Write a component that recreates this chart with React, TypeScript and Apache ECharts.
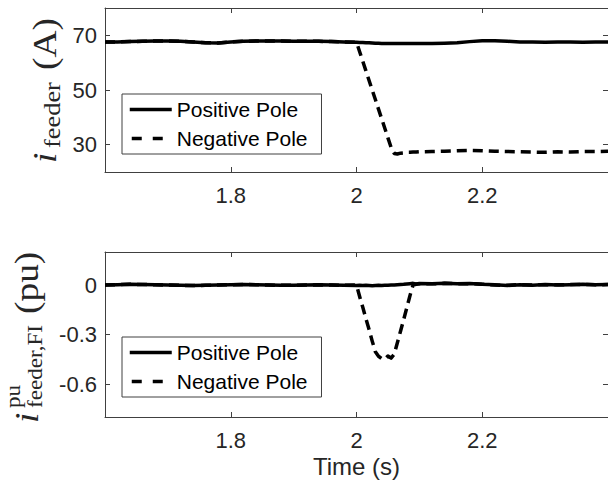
import React, { useEffect, useRef } from "react";
import * as echarts from "echarts";

const time = [
  1.6, 1.62, 1.64, 1.66, 1.68, 1.7, 1.72, 1.74, 1.76, 1.78,
  1.8, 1.82, 1.84, 1.86, 1.88, 1.9, 1.92, 1.94, 1.96, 1.98,
  2.0, 2.005, 2.01, 2.015, 2.02, 2.025, 2.03, 2.035, 2.04, 2.045,
  2.05, 2.055, 2.06, 2.065, 2.07, 2.075, 2.08, 2.085, 2.09, 2.095, 2.1,
  2.12, 2.14, 2.16, 2.18, 2.2, 2.22, 2.24, 2.26, 2.28, 2.3,
  2.32, 2.34, 2.36, 2.38, 2.4,
];

const feederPositive = [
  67.6, 67.6, 67.7, 67.8, 67.9, 67.9, 67.8, 67.6, 67.3, 67.2,
  67.6, 67.8, 67.9, 67.9, 67.9, 67.8, 67.8, 67.8, 67.7, 67.6,
  67.5, 67.4, 67.4, 67.3, 67.3, 67.2, 67.1, 67.1, 67.0, 67.0,
  67.0, 67.0, 67.0, 67.0, 67.0, 67.0, 67.0, 67.0, 67.0, 67.0, 67.0,
  67.0, 67.1, 67.3, 67.7, 68.0, 68.0, 67.8, 67.6, 67.6, 67.5,
  67.6, 67.6, 67.5, 67.6, 67.6,
];

const feederNegative = [
  67.6, 67.6, 67.7, 67.8, 67.9, 67.9, 67.8, 67.6, 67.3, 67.2,
  67.6, 67.8, 67.9, 67.9, 67.9, 67.8, 67.8, 67.8, 67.7, 67.6,
  67.5, 64.0, 60.5, 57.0, 53.5, 50.0, 46.5, 43.0, 39.5, 36.0,
  32.5, 29.0, 26.8, 26.6, 26.9, 27.0, 27.2, 27.2, 27.3, 27.3, 27.4,
  27.5, 27.6, 27.8, 27.9, 27.8, 27.6, 27.5, 27.4, 27.3, 27.2,
  27.4, 27.3, 27.5, 27.5, 27.6,
];

const faultPositive = [
  0.0, 0.002, 0.004, 0.003, 0.001, 0.0, -0.002, -0.003, -0.002, 0.0,
  0.002, 0.003, 0.002, 0.0, -0.002, -0.002, 0.0, 0.001, 0.0, -0.002,
  -0.003, -0.002, -0.003, -0.002, -0.003, -0.004, -0.003, -0.002, -0.003, -0.002,
  -0.001, 0.0, 0.0, 0.002, 0.003, 0.004, 0.006, 0.008, 0.01, 0.006, 0.009,
  0.008, 0.011, 0.007, 0.009, 0.004, 0.001, -0.003, 0.002, -0.001, 0.003,
  0.0, 0.002, 0.004, 0.002, 0.003,
];

const faultNegative = [
  0.0, 0.002, 0.004, 0.003, 0.001, 0.0, -0.002, -0.003, -0.002, 0.0,
  0.002, 0.003, 0.002, 0.0, -0.002, -0.002, 0.0, 0.001, 0.0, -0.002,
  0.0, -0.07, -0.135, -0.205, -0.27, -0.34, -0.405, -0.432, -0.446, -0.45,
  -0.43, -0.443, -0.42, -0.35, -0.28, -0.21, -0.138, -0.065, 0.0, 0.004, 0.007,
  0.007, 0.01, 0.008, 0.008, 0.005, 0.0, -0.002, 0.002, 0.0, 0.002,
  0.001, 0.003, 0.003, 0.001, 0.003,
];

const xTicks = [1.8, 2, 2.2];
const topYTicks = [30, 50, 70];
const bottomYTicks = [-0.6, -0.3, 0];
const legendNames = ["Positive Pole", "Negative Pole"];
const xAxisTitle = "Time (s)";

const TEXT = "#262626";
const AXIS = "#404040";
const SANS = '"Liberation Sans", Arial, Helvetica, sans-serif';
const SERIF = '"Liberation Serif", "Times New Roman", serif';

function pairs(values: number[]) {
  return time.map((t, i) => [t, values[i]]);
}

function xAxisPair(grid: number, withLabels: boolean, name?: string) {
  const base = {
    gridIndex: grid,
    type: "value" as const,
    min: 1.6,
    max: 2.4,
    splitLine: { show: false },
    axisLine: { show: true, onZero: false, lineStyle: { color: AXIS, width: 1 } },
    axisTick: { show: true, inside: true, length: 5, customValues: xTicks, lineStyle: { color: AXIS } },
  };
  return [
    {
      ...base,
      position: "bottom",
      name: name,
      nameLocation: "middle",
      nameGap: 37,
      nameTextStyle: { fontFamily: SANS, fontSize: 24, color: TEXT },
      axisLabel: {
        show: withLabels,
        customValues: xTicks,
        margin: 12,
        fontFamily: SANS,
        fontSize: 22,
        color: TEXT,
      },
    },
    { ...base, position: "top", axisLabel: { show: false } },
  ];
}

function yAxisPair(grid: number, min: number, max: number, ticks: number[]) {
  const base = {
    gridIndex: grid,
    type: "value" as const,
    min,
    max,
    splitLine: { show: false },
    axisLine: { show: true, onZero: false, lineStyle: { color: AXIS, width: 1 } },
    axisTick: { show: true, inside: true, length: 5, customValues: ticks, lineStyle: { color: AXIS } },
  };
  return [
    {
      ...base,
      position: "left",
      axisLabel: {
        customValues: ticks,
        margin: 8,
        fontFamily: SANS,
        fontSize: 22,
        color: TEXT,
      },
    },
    { ...base, position: "right", axisLabel: { show: false } },
  ];
}

function legendAt(top: number) {
  return {
    data: [
      { name: legendNames[0] },
      { name: legendNames[1], lineStyle: { type: [10, 11], dashOffset: -2 } },
    ],
    orient: "vertical",
    left: 122,
    top,
    padding: [5, 14, 5, 6],
    itemGap: 8,
    itemWidth: 42,
    itemHeight: 22,
    backgroundColor: "#ffffff",
    borderColor: AXIS,
    borderWidth: 1,
    borderRadius: 0,
    selectedMode: false,
    itemStyle: { opacity: 0, color: "transparent", borderWidth: 0 },
    lineStyle: { width: 3.5 },
    textStyle: { fontFamily: SANS, fontSize: 21, color: "#000000" },
  };
}

function lineSeries(name: string, values: number[], axis: number, dashed: boolean) {
  return {
    name,
    type: "line",
    xAxisIndex: axis,
    yAxisIndex: axis,
    data: pairs(values),
    symbol: "none",
    showSymbol: false,
    lineStyle: {
      color: "#000000",
      width: 3.5,
      type: dashed ? [10, 6] : "solid",
      cap: "butt",
      join: "round",
    },
    itemStyle: { color: "#000000" },
    z: dashed ? 3 : 2,
  };
}

function vText(text: string, x: number, y: number, size: number, italic = false) {
  return {
    type: "text",
    x,
    y,
    rotation: Math.PI / 2,
    scaleX: 1.1,
    silent: true,
    style: {
      text,
      fontFamily: SERIF,
      fontSize: size,
      fontStyle: italic ? "italic" : "normal",
      fill: TEXT,
      align: "left",
      verticalAlign: "middle",
      textAlign: "left",
      textVerticalAlign: "middle",
    },
  };
}

export default function App() {
  const ref = useRef<HTMLDivElement>(null);

  useEffect(() => {
    if (!ref.current) return;
    const chart = echarts.init(ref.current, null, { renderer: "svg" });
    const option = {
      animation: false,
      backgroundColor: "#ffffff",
      grid: [
        { left: 105, top: 8, width: 506, height: 164 },
        { left: 105, top: 252, width: 506, height: 165 },
      ],
      xAxis: [...xAxisPair(0, true), ...xAxisPair(1, true, xAxisTitle)],
      yAxis: [...yAxisPair(0, 20, 80, topYTicks), ...yAxisPair(1, -0.8, 0.2, bottomYTicks)],
      legend: [legendAt(94), legendAt(337)],
      series: [
        lineSeries(legendNames[0], feederPositive, 0, false),
        lineSeries(legendNames[1], feederNegative, 0, true),
        lineSeries(legendNames[0], faultPositive, 2, false),
        lineSeries(legendNames[1], faultNegative, 2, true),
      ],
      graphic: [
        vText("i", 45, 163, 34, true),
        vText("feeder", 52, 148, 24),
        vText("(A)", 45, 70, 34),
        vText("i", 27, 423, 34, true),
        vText("pu", 13, 408, 21),
        vText("feeder,FI", 35, 408, 21),
        vText("(pu)", 27, 314, 34),
      ],
    };
    chart.setOption(option as any);
    return () => chart.dispose();
  }, []);

  return (
    <div
      ref={ref}
      style={{ position: "absolute", left: 0, top: 0, width: 608, height: 487 }}
    />
  );
}
